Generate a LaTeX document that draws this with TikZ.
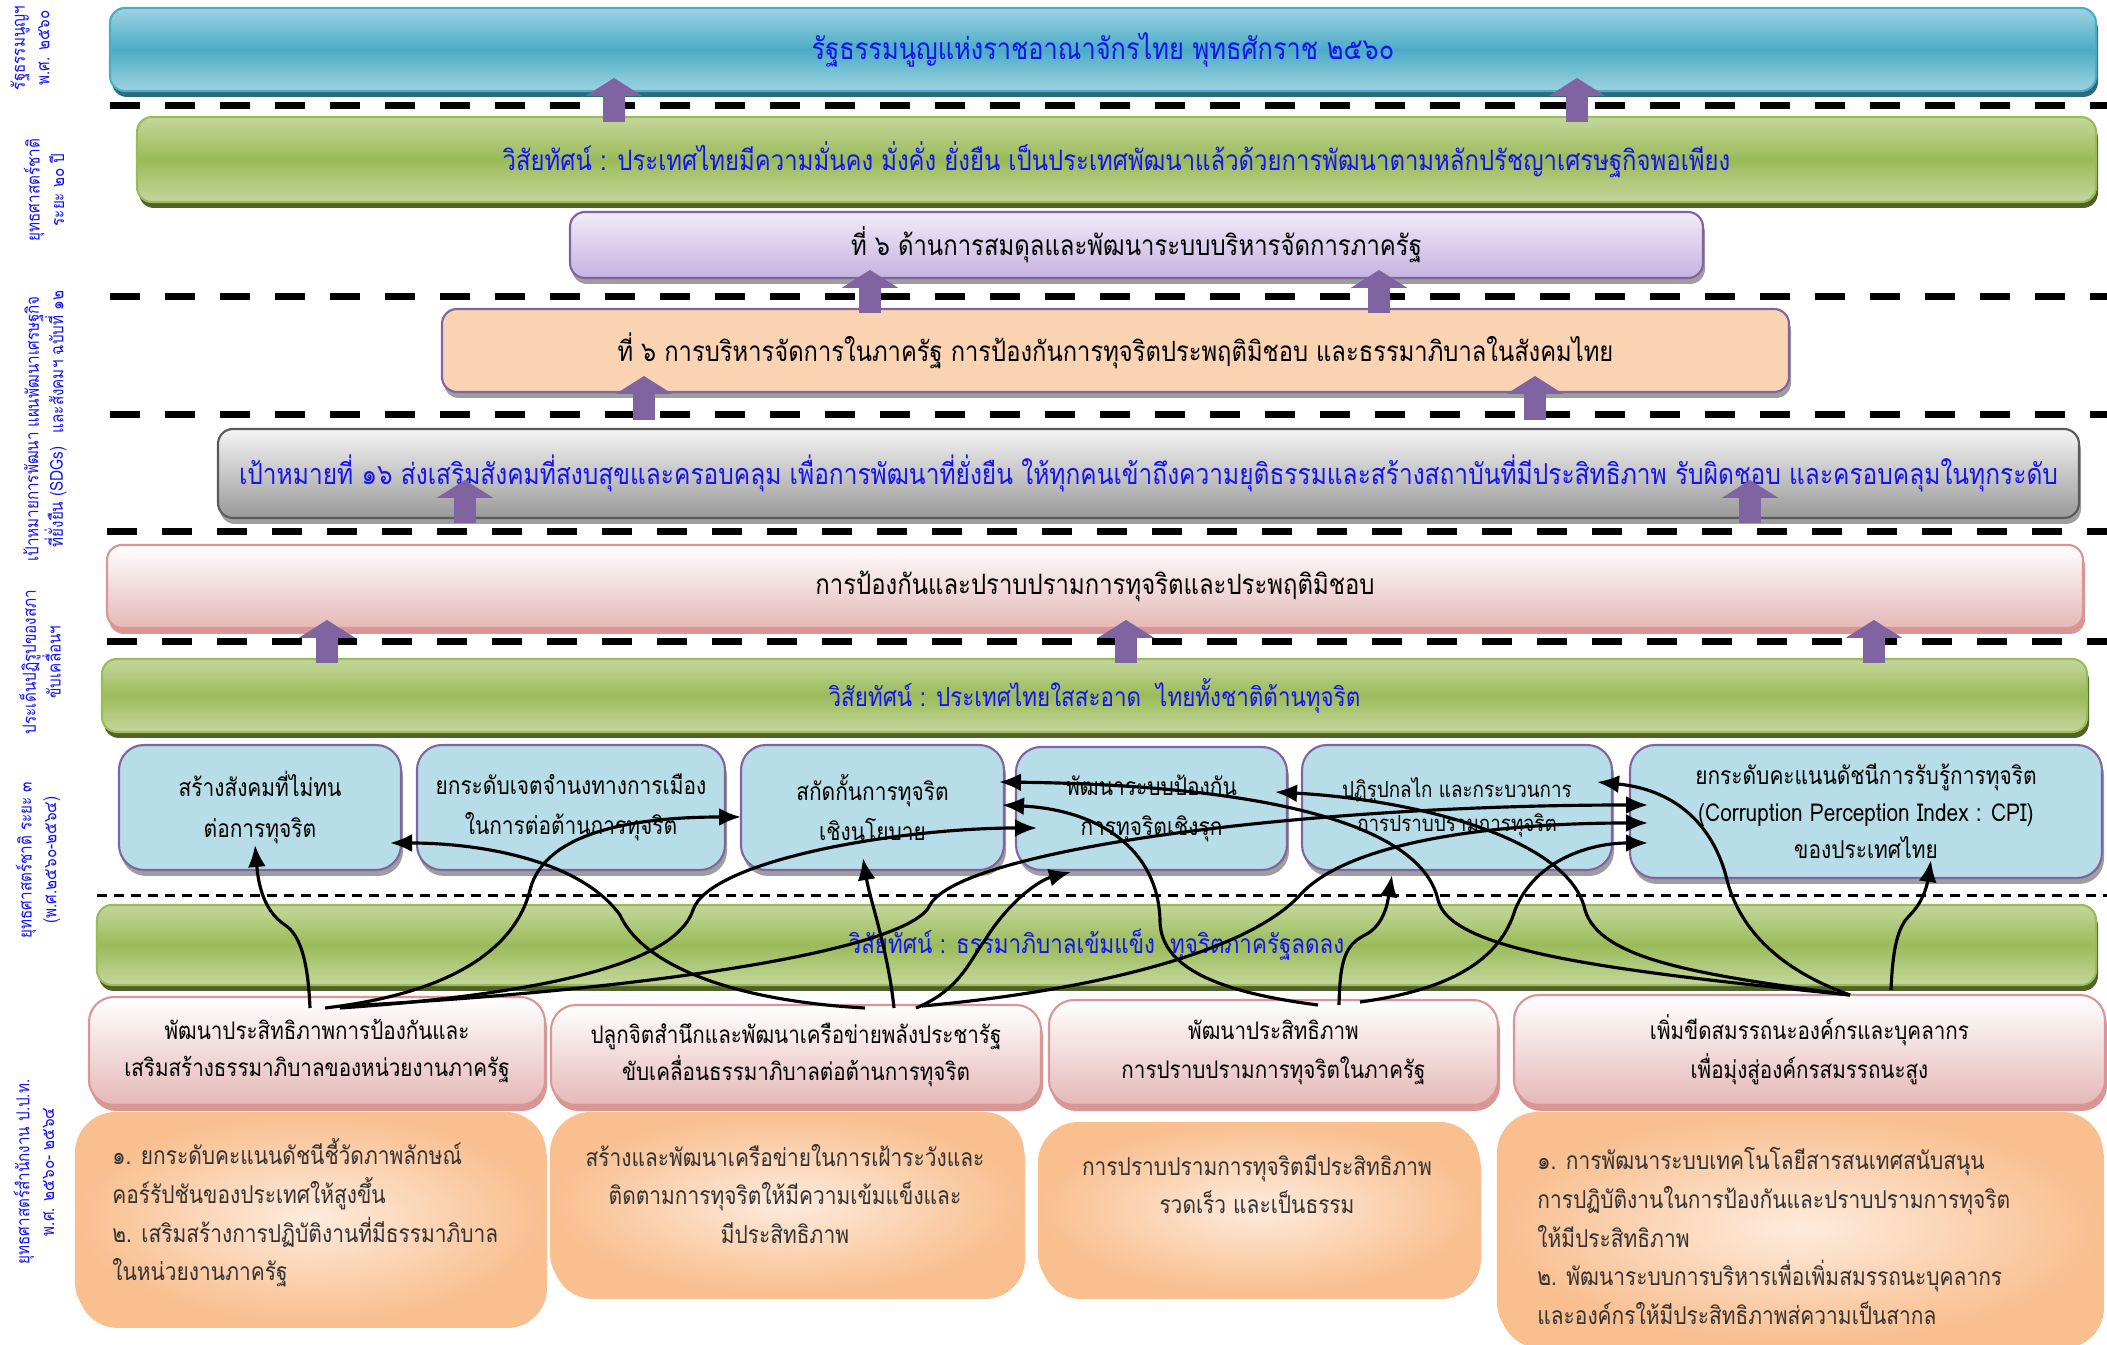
\documentclass[tikz,border=0pt]{standalone}
\usepackage{fontspec}
\setmainfont{Loma}[Script=Thai,FakeStretch=0.85]
\usetikzlibrary{arrows.meta,shadows}
\definecolor{txtblue}{HTML}{1414F0}
\definecolor{cyanL}{HTML}{9ED3E1}
\definecolor{cyanM}{HTML}{4BACC6}
\definecolor{cyanD}{HTML}{2B6B7C}
\definecolor{greenL}{HTML}{C4D79D}
\definecolor{greenM}{HTML}{9BBB59}
\definecolor{greenD}{HTML}{4F6228}
\definecolor{purpL}{HTML}{F1ECF8}
\definecolor{purpM}{HTML}{C6B2E0}
\definecolor{purpB}{HTML}{8064A2}
\definecolor{peach}{HTML}{FAD3B3}
\definecolor{grayL}{HTML}{F4F4F4}
\definecolor{grayM}{HTML}{999999}
\definecolor{grayB}{HTML}{5A5A5A}
\definecolor{pinkM}{HTML}{E5B8B7}
\definecolor{pinkB}{HTML}{D99694}
\definecolor{lblue}{HTML}{B7DEE8}
\definecolor{orgL}{HTML}{FDEBDD}
\definecolor{orgM}{HTML}{F9BF8F}
\definecolor{shadowgray}{HTML}{9E9E9E}
\begin{document}
\begin{tikzpicture}[x=0.1mm,y=-0.1mm,
	box/.style={draw,rounded corners=1.5mm,inner sep=0pt,outer sep=0pt,line width=0.6pt,align=center},
	shad/.style={drop shadow={shadow xshift=0.2mm,shadow yshift=-0.6mm,fill=#1,opacity=1}},
	bigtext/.style={font=\fontsize{#1}{10}\selectfont},
	smalltext/.style={font=\fontsize{7}{11.5}\selectfont,align=center},
	sidelabel/.style={rotate=90,font=\fontsize{5.1}{7}\selectfont,text=txtblue,align=center,inner sep=0pt},
	layerarr/.style={draw=purpB,line width=2.2mm,-{Triangle[width=5.6mm,length=1.8mm]}},
	gap/.style={line width=0.7mm,dash pattern=on 3mm off 2.5mm},
	conn/.style={line width=0.9pt,-{Latex[length=2.2mm,width=1.8mm]}}]
	\useasboundingbox (0,0) rectangle (2107,1345);
	\node[box,shad=cyanD,draw=cyanM,top color=cyanL,bottom color=cyanL,middle color=cyanM,minimum width=198.6mm,minimum height=8.3mm,bigtext=8.5,text=txtblue] (const) at (1103,49.5) {รัฐธรรมนูญแห่งราชอาณาจักรไทย พุทธศักราช ๒๕๖๐};
	\node[box,shad=greenD,draw=greenM,top color=greenL,bottom color=greenL,middle color=greenM,minimum width=195.9mm,minimum height=8.5mm,bigtext=8,text=txtblue] (vis20) at (1116.5,159.5) {วิสัยทัศน์ : ประเทศไทยมีความมั่นคง มั่งคั่ง ยั่งยืน เป็นประเทศพัฒนาแล้วด้วยการพัฒนาตามหลักปรัชญาเศรษฐกิจพอเพียง};
	\node[box,shad=shadowgray,draw=purpB,top color=purpL,bottom color=purpM,minimum width=113.3mm,minimum height=6.6mm,bigtext=8] (plan6) at (1136.5,245) {ที่ ๖ ด้านการสมดุลและพัฒนาระบบบริหารจัดการภาครัฐ};
	\node[box,shad=shadowgray,draw=purpB,fill=peach,minimum width=134.7mm,minimum height=8.3mm,bigtext=7.95] (nesdp) at (1115.5,350.5) {ที่ ๖ การบริหารจัดการในภาครัฐ การป้องกันการทุจริตประพฤติมิชอบ และธรรมาภิบาลในสังคมไทย};
	\node[box,shad=shadowgray,draw=grayB,top color=grayL,bottom color=grayM,minimum width=186.1mm,minimum height=8.9mm,bigtext=8.2,text=txtblue] (sdg) at (1148.5,473.5) {เป้าหมายที่ ๑๖ ส่งเสริมสังคมที่สงบสุขและครอบคลุม เพื่อการพัฒนาที่ยั่งยืน ให้ทุกคนเข้าถึงความยุติธรรมและสร้างสถาบันที่มีประสิทธิภาพ รับผิดชอบ  และครอบคลุมในทุกระดับ};
	\node[box,shad=pinkB,draw=pinkB,top color=white,bottom color=pinkM,minimum width=197.6mm,minimum height=8.3mm,bigtext=8] (reform) at (1095,586.5) {การป้องกันและปราบปรามการทุจริตและประพฤติมิชอบ};
	\node[box,shad=greenD,draw=greenM,top color=greenL,bottom color=greenL,middle color=greenM,minimum width=198.5mm,minimum height=7.3mm,bigtext=7.5,text=txtblue] (vis3) at (1094.5,695.5) {วิสัยทัศน์ : ประเทศไทยใสสะอาด~~ไทยทั้งชาติต้านทุจริต};
	\draw[gap] (110,106) -- (2107,106);
	\draw[gap] (110,297) -- (2107,297);
	\draw[gap] (110,415) -- (2107,415);
	\draw[gap] (107,532) -- (2107,532);
	\draw[gap] (107,642) -- (2107,642);
	\foreach \x/\a/\b in {614/122/78,1577/122/78,870/313/270,1379/313/270,644/420/376,1535/420/376,465/523/480,1750/523/480,327/663/620,1126/663/620,1874/663/620}
		\draw[layerarr] (\x,\a) -- (\x,\b);
	\node[box,rounded corners=2.5mm,shad=shadowgray,draw=purpB,fill=lblue,minimum width=28.2mm,minimum height=12.5mm,smalltext] (s1) at (260,807.5) {สร้างสังคมที่ไม่ทน\\ต่อการทุจริต};
	\node[box,rounded corners=2.5mm,shad=shadowgray,draw=purpB,fill=lblue,minimum width=30.8mm,minimum height=12.5mm,smalltext] (s2) at (571,807.5) {ยกระดับเจตจำนงทางการเมือง\\ในการต่อต้านการทุจริต};
	\node[box,rounded corners=2.5mm,shad=shadowgray,draw=purpB,fill=lblue,minimum width=26.3mm,minimum height=12.5mm,smalltext] (s3) at (872.5,807.5) {สกัดกั้นการทุจริต\\เชิงนโยบาย};
	\node[box,rounded corners=2.5mm,shad=shadowgray,draw=purpB,fill=lblue,minimum width=27.1mm,minimum height=12.3mm,smalltext] (s4) at (1151.5,808.5) {พัฒนาระบบป้องกัน\\การทุจริตเชิงรุก};
	\node[box,rounded corners=2.5mm,shad=shadowgray,draw=purpB,fill=lblue,minimum width=31mm,minimum height=12.5mm,smalltext,font=\fontsize{6.3}{9.5}\selectfont] (s5) at (1457,807.5) {ปฏิรูปกลไก และกระบวนการ\\การปราบปรามการทุจริต};
	\node[box,rounded corners=2.5mm,shad=shadowgray,draw=purpB,fill=lblue,minimum width=47.2mm,minimum height=13.3mm,smalltext,font=\fontsize{7}{10.5}\selectfont] (s6) at (1866,811.5) {ยกระดับคะแนนดัชนีการรับรู้การทุจริต\\(Corruption Perception Index : CPI)\\ของประเทศไทย};
	\draw[line width=0.3mm,dash pattern=on 1mm off 0.7mm] (97,896) -- (2107,896);
	\node[box,shad=greenD,draw=greenM,top color=greenL,bottom color=greenL,middle color=greenM,minimum width=199.9mm,minimum height=8mm,bigtext=7.5,text=txtblue] (vis4) at (1096.5,945) {วิสัยทัศน์ : ธรรมาภิบาลเข้มแข็ง~~ทุจริตภาครัฐลดลง};
	\node[box,rounded corners=2.5mm,shad=pinkB,draw=pinkB,top color=white,bottom color=pinkM,minimum width=45.6mm,minimum height=10.8mm,smalltext,font=\fontsize{6.9}{10.5}\selectfont] (pA) at (317,1051) {พัฒนาประสิทธิภาพการป้องกันและ\\เสริมสร้างธรรมาภิบาลของหน่วยงานภาครัฐ};
	\node[box,rounded corners=2.5mm,shad=pinkB,draw=pinkB,top color=white,bottom color=pinkM,minimum width=49mm,minimum height=10mm,smalltext,font=\fontsize{6.9}{10.5}\selectfont] (pB) at (796,1055) {ปลูกจิตสำนึกและพัฒนาเครือข่ายพลังประชารัฐ\\ขับเคลื่อนธรรมาภิบาลต่อต้านการทุจริต};
	\node[box,rounded corners=2.5mm,shad=pinkB,draw=pinkB,top color=white,bottom color=pinkM,minimum width=44.9mm,minimum height=10.5mm,smalltext,font=\fontsize{6.9}{11}\selectfont] (pC) at (1273.5,1052.5) {พัฒนาประสิทธิภาพ\\การปราบปรามการทุจริตในภาครัฐ};
	\node[box,rounded corners=2.5mm,shad=pinkB,draw=pinkB,top color=white,bottom color=pinkM,minimum width=59.1mm,minimum height=11mm,smalltext,font=\fontsize{6.9}{11}\selectfont] (pD) at (1809.5,1050) {เพิ่มขีดสมรรถนะองค์กรและบุคลากร\\เพื่อมุ่งสู่องค์กรสมรรถนะสูง};
	\node[box,rounded corners=4mm,shad=orgM,draw=orgM,inner color=orgL,outer color=orgM,minimum width=46.9mm,minimum height=20.9mm] (oA) at (310.5,1217.5) {};
	\node[box,rounded corners=4mm,shad=orgM,draw=orgM,inner color=orgL,outer color=orgM,minimum width=47.2mm,minimum height=18mm] (oB) at (787,1203) {};
	\node[box,rounded corners=4mm,shad=orgM,draw=orgM,inner color=orgL,outer color=orgM,minimum width=44mm,minimum height=17mm] (oC) at (1259,1208) {};
	\node[box,rounded corners=4mm,shad=orgM,draw=orgM,inner color=orgL,outer color=orgM,minimum width=60.4mm,minimum height=22.9mm] (oD) at (1800,1227.5) {};
	\node[smalltext,align=left,anchor=west,text=black!80,font=\fontsize{7}{11}\selectfont] (oAt) at (100,1213) {๑. ยกระดับคะแนนดัชนีชี้วัดภาพลักษณ์\\คอร์รัปชันของประเทศให้สูงขึ้น\\๒. เสริมสร้างการปฏิบัติงานที่มีธรรมาภิบาล\\ในหน่วยงานภาครัฐ};
	\node[smalltext,text=black!80,font=\fontsize{7}{11}\selectfont] (oBt) at (785,1194) {สร้างและพัฒนาเครือข่ายในการเฝ้าระวังและ\\ติดตามการทุจริตให้มีความเข้มแข็งและ\\มีประสิทธิภาพ};
	\node[smalltext,text=black!80,font=\fontsize{7}{11}\selectfont] (oCt) at (1257,1184) {การปราบปรามการทุจริตมีประสิทธิภาพ\\รวดเร็ว และเป็นธรรม};
	\node[smalltext,align=left,anchor=west,text=black!80,font=\fontsize{7}{11}\selectfont] (oDt) at (1525,1236) {๑. การพัฒนาระบบเทคโนโลยีสารสนเทศสนับสนุน\\การปฏิบัติงานในการป้องกันและปราบปรามการทุจริต\\ให้มีประสิทธิภาพ\\๒. พัฒนาระบบการบริหารเพื่อเพิ่มสมรรถนะบุคลากร\\และองค์กรให้มีประสิทธิภาพส่ความเป็นสากล};
	\node[sidelabel] (lab1) at (30,48) {รัฐธรรมนูญฯ\\พ.ศ. ๒๕๖๐};
	\node[sidelabel] (lab2) at (44,190) {ยุทธศาสตร์ชาติ\\ระยะ ๒๐ ปี};
	\node[sidelabel] (lab3) at (44,362) {แผนพัฒนาเศรษฐกิจ\\และสังคมฯ ฉบับที่ ๑๒};
	\node[sidelabel] (lab4) at (45,497) {เป้าหมายการพัฒนา\\ที่ยั่งยืน (SDGs)};
	\node[sidelabel] (lab5) at (40,662) {ประเด็นปฏิรูปของสภา\\ขับเคลื่อนฯ};
	\node[sidelabel] (lab6) at (38,860) {ยุทธศาสตร์ชาติ ระยะ ๓\\(พ.ศ.๒๕๖๐-๒๕๖๔)};
	\node[sidelabel] (lab7) at (34,1172) {ยุทธศาสตร์สำนักงาน ป.ป.ท.\\พ.ศ. ๒๕๖๐- ๒๕๖๔};
	\coordinate (A1) at (310,1008);
	\coordinate (A2) at (325,1008);
	\coordinate (A3) at (340,1008);
	\coordinate (A4) at (345,1006);
	\coordinate (B1) at (865,1008);
	\coordinate (B2) at (894,1008);
	\coordinate (B3) at (916,1008);
	\coordinate (B4) at (922,1006);
	\coordinate (C1) at (1318,1005);
	\coordinate (C2) at (1339,1005);
	\coordinate (C3) at (1360,1002);
	\coordinate (D1) at (1850,995);
	\coordinate (D2) at (1891,990);
	\coordinate (T1b) at (255,845);
	\coordinate (T1r) at (390,843);
	\coordinate (T3l) at (741,817);
	\coordinate (T3b) at (863,858);
	\coordinate (T3r) at (999,782);
	\coordinate (T3s) at (1002,805);
	\coordinate (T4l) at (1037,828);
	\coordinate (T4b) at (1071,872);
	\coordinate (T4r) at (1275,792);
	\coordinate (T5b) at (1392,875);
	\coordinate (T5r) at (1597,782);
	\coordinate (T6a) at (1648,805);
	\coordinate (T6b) at (1648,823);
	\coordinate (T6c) at (1648,843);
	\coordinate (T6u) at (1931,860);
	\draw[conn] (A1) .. controls (308,960) and (300,935) .. (285,925) .. controls (262,910) and (258,880) .. (T1b);
	\draw[conn] (A2) .. controls (480,990) and (520,930) .. (530,890) .. controls (545,830) and (640,817) .. (T3l);
	\draw[conn] (A3) .. controls (600,990) and (680,950) .. (693,910) .. controls (710,860) and (900,828) .. (T4l);
	\draw[conn] (A4) .. controls (650,990) and (910,950) .. (930,905) .. controls (960,850) and (1300,805) .. (T6a);
	\draw[conn] (B1) .. controls (720,1000) and (640,960) .. (620,915) .. controls (580,860) and (480,843) .. (T1r);
	\draw[conn] (B2) .. controls (888,950) and (870,900) .. (T3b);
	\draw[conn] (B3) .. controls (960,990) and (970,960) .. (985,940) .. controls (1010,900) and (1040,880) .. (T4b);
	\draw[conn] (B4) .. controls (1100,990) and (1250,950) .. (1300,895) .. controls (1350,840) and (1500,823) .. (T6b);
	\draw[conn] (C1) .. controls (1200,990) and (1160,960) .. (1160,920) .. controls (1158,850) and (1100,810) .. (T3s);
	\draw[conn] (C2) .. controls (1340,960) and (1345,945) .. (1365,935) .. controls (1385,925) and (1388,900) .. (T5b);
	\draw[conn] (C3) .. controls (1450,990) and (1500,960) .. (1515,910) .. controls (1535,860) and (1590,843) .. (T6c);
	\draw[conn] (D1) .. controls (1600,970) and (1450,950) .. (1438,900) .. controls (1420,820) and (1250,785) .. (T3r);
	\draw[conn] (D1) .. controls (1700,975) and (1600,960) .. (1585,910) .. controls (1570,840) and (1420,800) .. (T4r);
	\draw[conn] (D1) .. controls (1780,970) and (1740,930) .. (1727,880) .. controls (1715,830) and (1680,790) .. (T5r);
	\draw[conn] (D2) .. controls (1893,940) and (1900,925) .. (1910,915) .. controls (1925,900) and (1928,880) .. (T6u);
\end{tikzpicture}
\end{document}
